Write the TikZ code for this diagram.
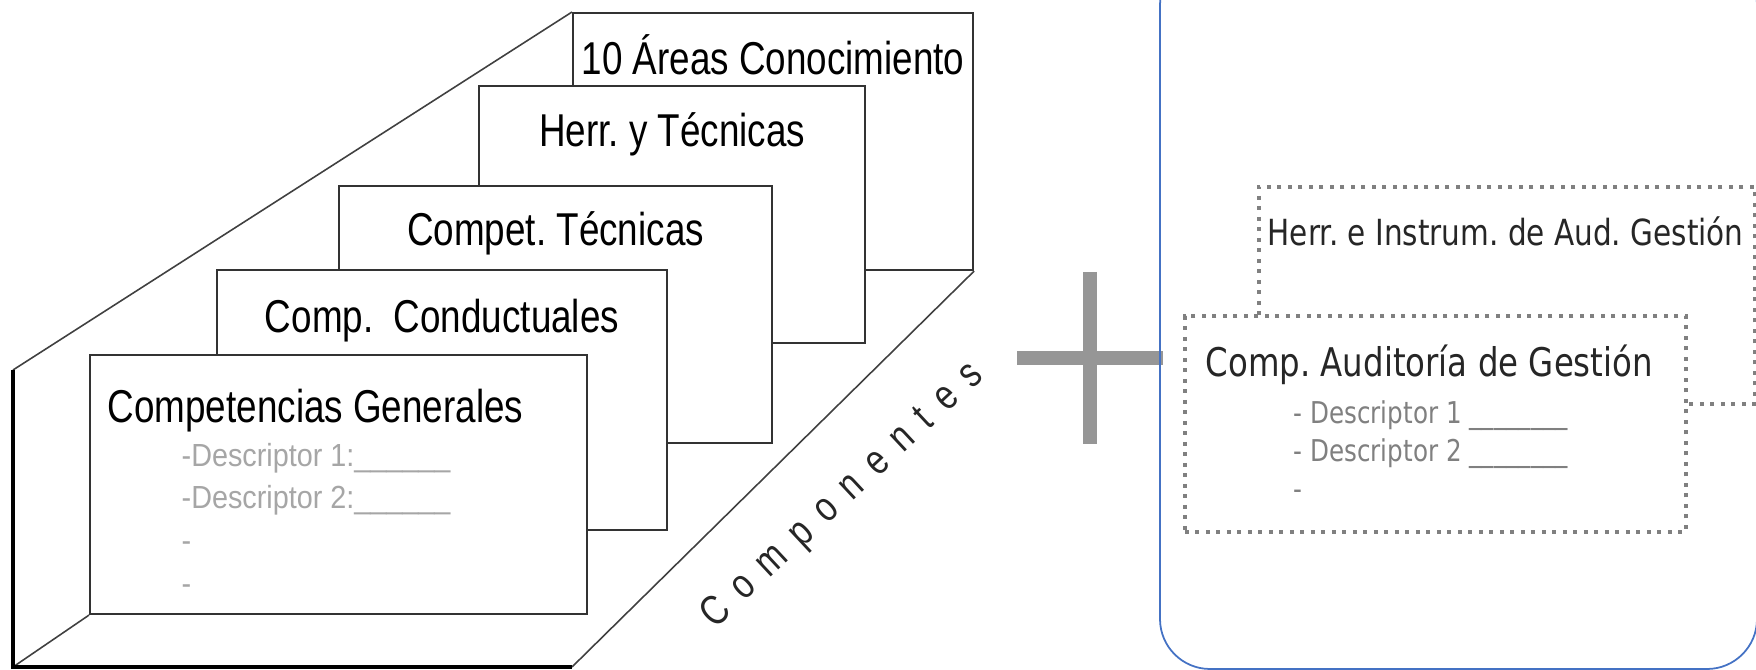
\documentclass[tikz,border=0pt]{standalone}
\usepackage{fontspec}
\setmainfont{Liberation Sans}
\newfontfamily\layerfont[FakeStretch=0.8]{Liberation Sans}
\newfontfamily\descfont[FakeStretch=0.9]{Liberation Sans}
\newfontfamily\compfont[FakeStretch=0.8,LetterSpace=38]{Liberation Sans}
\newfontfamily\audfont[FakeStretch=0.82]{DejaVu Sans}
\frenchspacing
\usetikzlibrary{shapes.geometric}
\definecolor{frameblue}{HTML}{4472C4}
\definecolor{plusgray}{HTML}{969696}
\definecolor{dotgray}{HTML}{808080}
\definecolor{descgray}{HTML}{A6A6A6}
\tikzstyle{layer} = [rectangle, draw=black!80, fill=white, line width=0.6pt, inner sep=0pt, anchor=north west]
\tikzstyle{title} = [inner sep=0pt, anchor=base, font=\layerfont\fontsize{13.1}{15}\selectfont]
\tikzstyle{desc} = [inner sep=0pt, anchor=base west, text=descgray, font=\descfont\fontsize{9.1}{11}\selectfont]
\tikzstyle{edge} = [draw=black!75, line width=0.45pt]
\tikzstyle{thickedge} = [draw=black, line width=1.4pt]
\tikzstyle{plusbar} = [draw=plusgray, line width=4pt]
\tikzstyle{frame} = [draw=frameblue, line width=0.5pt, rounded corners=5mm]
\tikzstyle{dotbox} = [rectangle, draw=dotgray, fill=white, line width=1.1pt, dash pattern=on 0.4mm off 0.65mm, inner sep=0pt, anchor=north west]
\tikzstyle{audtitle} = [inner sep=0pt, anchor=base west, text=black!85]
\tikzstyle{auddesc} = [inner sep=0pt, anchor=base west, text=dotgray, font=\audfont\fontsize{8.54}{10}\selectfont]

\begin{document}
\begin{tikzpicture}[x=0.1mm, y=-0.1mm]
  \useasboundingbox (0,0) rectangle (1756,670);

  % capas del prisma
  \node (areas) [layer, minimum width=40mm, minimum height=25.7mm] at (572,12) {};
  \node (herr) [layer, minimum width=38.6mm, minimum height=25.7mm] at (478,85) {};
  \node (tecn) [layer, minimum width=43.3mm, minimum height=25.7mm] at (338,185) {};
  \node (cond) [layer, minimum width=45mm, minimum height=26mm] at (216,269) {};
  \node (gen) [layer, minimum width=49.7mm, minimum height=25.9mm] at (89,354) {};

  \node (areastxt) [title] at ([yshift=-6.3mm]areas.north) {10 Áreas Conocimiento};
  \node (herrtxt) [title] at ([yshift=-6.2mm]herr.north) {Herr. y Técnicas};
  \node (tecntxt) [title] at ([yshift=-6.1mm]tecn.north) {Compet. Técnicas};
  \node (condtxt) [title] at ([yshift=-6.4mm]cond.north) {Comp.\ \ Conductuales};
  \node (gentxt) [title, anchor=base west] at ([xshift=1.8mm, yshift=-6.9mm]gen.north west) {Competencias Generales};

  \node (gd1) [desc] at ([xshift=9.2mm, yshift=-11.3mm]gen.north west) {-Descriptor 1:\_\_\_\_\_\_};
  \node (gd2) [desc] at ([yshift=-4.2mm]gd1.base west) {-Descriptor 2:\_\_\_\_\_\_};
  \node (gd3) [desc] at ([yshift=-4.3mm]gd2.base west) {-};
  \node (gd4) [desc] at ([yshift=-4.3mm]gd3.base west) {-};

  % aristas del prisma
  \coordinate (ftop) at (13,370);
  \coordinate (fbot) at (13,667);
  \coordinate (fright) at (572,667);
  \draw [edge] (ftop) -- (areas.north west);
  \draw [edge] (fbot) -- (gen.south west);
  \draw [edge] (fright) -- (areas.south east);
  \draw [thickedge] (ftop) -- (fbot) -- (fright);

  \node (comp) [rotate=43, text=black!85, font=\compfont\fontsize{11.95}{14}\selectfont] at (843,496) {Componentes};

  % signo mas
  \coordinate (plus) at (1090,358);
  \draw [plusbar] ([xshift=-7.3mm]plus) -- ([xshift=7.3mm]plus);
  \draw [plusbar] ([yshift=8.6mm]plus) -- ([yshift=-8.6mm]plus);

  % panel de auditoria
  \draw [frame] (1160,-45) rectangle (1757,669);
  \node (herrinst) [dotbox, minimum width=49.6mm, minimum height=21.7mm] at (1257,185) {};
  \node (compaud) [dotbox, minimum width=50.1mm, minimum height=21.6mm] at (1183,314) {};

  \node (herrinsttxt) [audtitle, font=\audfont\fontsize{10.24}{12}\selectfont] at ([xshift=1mm, yshift=-6.1mm]herrinst.north west) {Herr. e Instrum. de Aud. Gestión};
  \node (compaudtxt) [audtitle, font=\audfont\fontsize{11.24}{13}\selectfont] at ([xshift=2.2mm, yshift=-6.3mm]compaud.north west) {Comp. Auditoría de Gestión};
  \node (ad1) [auddesc] at ([xshift=11mm, yshift=-11mm]compaud.north west) {- Descriptor 1 \_\_\_\_\_\_\_\_};
  \node (ad2) [auddesc] at ([yshift=-3.8mm]ad1.base west) {- Descriptor 2 \_\_\_\_\_\_\_\_};
  \node (ad3) [auddesc] at ([yshift=-3.8mm]ad2.base west) {-};
\end{tikzpicture}
\end{document}
